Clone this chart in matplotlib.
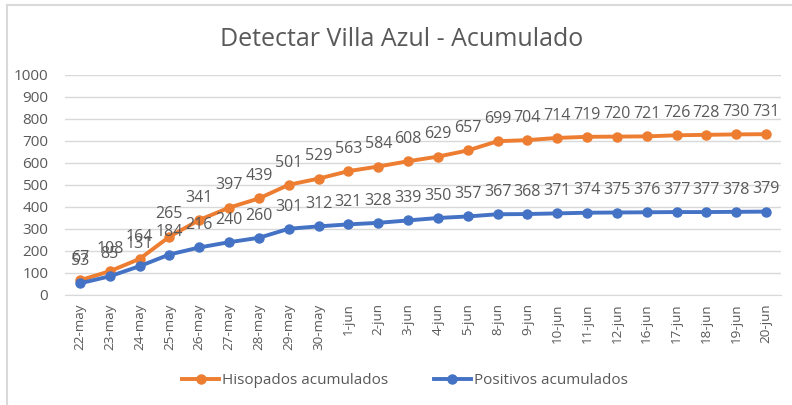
import matplotlib.pyplot as plt
from matplotlib.lines import Line2D

# datos
fechas = ['22-may', '23-may', '24-may', '25-may', '26-may', '27-may', '28-may', '29-may', '30-may',
          '1-jun', '2-jun', '3-jun', '4-jun', '5-jun', '8-jun', '9-jun', '10-jun', '11-jun',
          '12-jun', '16-jun', '17-jun', '18-jun', '19-jun', '20-jun']
hisopados = [67, 108, 164, 265, 341, 397, 439, 501, 529, 563, 584, 608, 629, 657, 699, 704,
             714, 719, 720, 721, 726, 728, 730, 731]
positivos = [53, 85, 131, 184, 216, 240, 260, 301, 312, 321, 328, 339, 350, 357, 367, 368,
             371, 374, 375, 376, 377, 377, 378, 379]

NARANJA = '#ED7D31'
AZUL = '#4472C4'
GRIS = '#595959'

plt.rcParams['font.family'] = ['Open Sans', 'DejaVu Sans']

fig = plt.figure(figsize=(7.92, 4.05), dpi=100)
ax = fig.add_axes([65 / 792, 110 / 405, 716 / 792, 220 / 405])

x = list(range(len(fechas)))
ax.plot(x, hisopados, color=NARANJA, lw=2.8, marker='o', ms=6.5, label='Hisopados acumulados', zorder=3)
ax.plot(x, positivos, color=AZUL, lw=2.8, marker='o', ms=6.5, label='Positivos acumulados', zorder=3)

for xi, v in zip(x, hisopados):
    ax.annotate(str(v), (xi, v), xytext=(0, 16), textcoords='offset points',
                ha='center', va='center', fontsize=11.5, color=GRIS)
for xi, v in zip(x, positivos):
    ax.annotate(str(v), (xi, v), xytext=(0, 16), textcoords='offset points',
                ha='center', va='center', fontsize=11.5, color=GRIS)

ax.set_xlim(-0.5, len(fechas) - 0.5)
ax.set_ylim(0, 1000)
ax.set_yticks(range(0, 1001, 100))
ax.set_xticks(x)
ax.set_xticklabels(fechas, rotation=90, fontsize=9.7, color=GRIS)
ax.tick_params(axis='y', labelsize=11, labelcolor=GRIS, length=0, pad=12)
ax.tick_params(axis='x', length=0, pad=6)
ax.grid(axis='y', color='#D9D9D9', lw=1)
ax.set_axisbelow(True)
for s in ['top', 'right', 'left']:
    ax.spines[s].set_visible(False)
ax.spines['bottom'].set_color('#D9D9D9')

fig.text(402 / 792, 1 - 40 / 405, 'Detectar Villa Azul - Acumulado', ha='center', va='center',
         fontsize=18, color=GRIS)

# borde del grafico (solo se ve arriba y a la izquierda)
fig.add_artist(Line2D([7 / 792, 7 / 792], [0, 1 - 5 / 405], color='#D9D9D9', lw=1.5))
fig.add_artist(Line2D([7 / 792, 1], [1 - 5 / 405, 1 - 5 / 405], color='#D9D9D9', lw=1.5))

fig.legend(loc='center', bbox_to_anchor=(405 / 792, 1 - 381 / 405), ncol=2, frameon=False,
           fontsize=11, labelcolor=GRIS, handlelength=2.4, handletextpad=0.2, columnspacing=3)

fig.savefig('out.png', dpi=100)
